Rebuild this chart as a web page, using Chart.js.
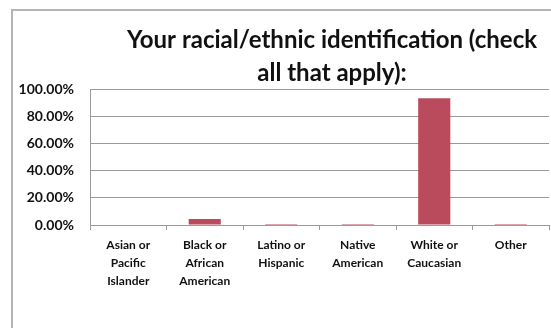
<!DOCTYPE html>
<html>
<head>
<meta charset="utf-8">
<script src="https://cdn.jsdelivr.net/npm/chart.js@4"></script>
<style>
  html, body { margin: 0; padding: 0; background: #fff; overflow: hidden; width: 551px; height: 328px; }
  #frame { position: absolute; left: 11px; top: 9px; width: 700px; height: 400px;
           border-left: 2px solid #b4b4b4; border-top: 2px solid #b4b4b4; }
  #wrap { position: absolute; left: 0; top: 0; width: 664px; height: 328px; }
</style>
</head>
<body>
<div id="frame"></div>
<div id="wrap"><canvas id="mychart" width="664" height="328"></canvas></div>
<script>
// values, percent of respondents
const categories = [
    ["Asian or", "Pacific", "Islander"],
    ["Black or", "African", "American"],
    ["Latino or", "Hispanic"],
    ["Native", "American"],
    ["White or", "Caucasian"],
    ["Other"]
];
const percentValues = [0, 4.4, 0.7, 0.7, 93.2, 0.7];
const yTicks = [0, 20, 40, 60, 80, 100];

const titleLines = ["Your racial/ethnic identification (check", "all that apply):"];
const barColor = "#b94b5d";
const inkColor = "#111111";
const gridColor = "#9a9a9a";

Chart.defaults.font.family = "Lato";

new Chart("mychart", {
    type: "bar",
    data: {
        labels: categories,
        datasets: [{
            data: percentValues,
            backgroundColor: barColor,
            borderWidth: 0,
            barPercentage: 0.42,
            categoryPercentage: 1.0
        }]
    },
    options: {
        responsive: false,
        animation: false,
        devicePixelRatio: 1,
        layout: { padding: 0 },
        plugins: {
            legend: { display: false },
            tooltip: { enabled: false },
            title: {
                display: true,
                text: titleLines,
                color: inkColor,
                font: { size: 24, weight: "bold", lineHeight: 1.375 },
                padding: { top: 24, bottom: -1 }
            }
        },
        scales: {
            x: {
                grid: { display: true, drawOnChartArea: false, drawTicks: true, tickLength: 5, color: gridColor, offset: true },
                border: { display: true, color: gridColor },
                ticks: {
                    color: inkColor,
                    font: { size: 12, weight: "bold", lineHeight: 1.5 },
                    padding: 6,
                    maxRotation: 0,
                    autoSkip: false
                },
                afterFit: function(scale) { scale.height = 103; }
            },
            y: {
                min: 0,
                max: 100,
                afterBuildTicks: function(scale) {
                    scale.ticks = yTicks.map(v => ({ value: v }));
                },
                grid: { color: gridColor, drawTicks: false },
                border: { display: true, color: gridColor },
                ticks: {
                    color: inkColor,
                    font: { size: 14, weight: "bold" },
                    padding: 16,
                    callback: v => v.toFixed(2) + "%"
                },
                afterFit: function(scale) { scale.width = 90; }
            },
            y2: {
                position: "right",
                grid: { display: false },
                border: { display: false },
                ticks: { display: false },
                afterFit: function(scale) { scale.width = 115; }
            }
        }
    }
});
</script>
</body>
</html>
